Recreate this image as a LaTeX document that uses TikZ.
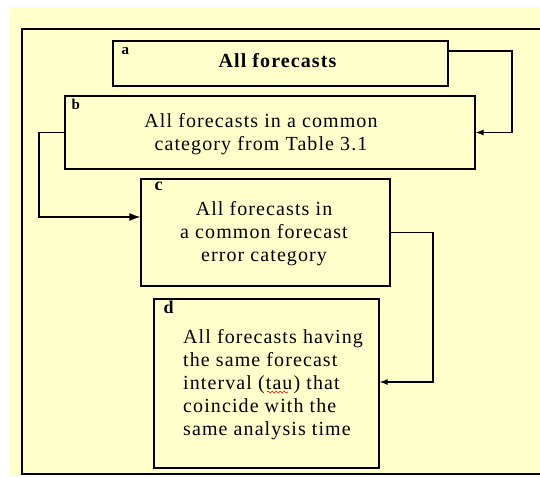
\documentclass[tikz,border=0pt]{standalone}
\usepackage{fontspec}
\setmainfont{Liberation Serif}[LetterSpace=5.5]
\usetikzlibrary{arrows.meta, positioning, decorations.pathmorphing}
\definecolor{paleyellow}{HTML}{FFFFCC}

\begin{document}
\begin{tikzpicture}[x=1pt, y=-1pt,
  box/.style={draw, line width=1.2pt, inner sep=0pt},
  txt/.style={inner sep=0pt, align=center, font=\fontsize{20}{23}\selectfont},
  lbl/.style={inner sep=0pt, anchor=base west, font=\fontsize{15}{17}\selectfont\bfseries},
  biglbl/.style={lbl, font=\fontsize{18}{20}\selectfont\bfseries},
  link/.style={line width=1.2pt, -{Latex[length=8pt,width=6pt]}}]

  % background and frame
  \useasboundingbox (0,0) rectangle (540,476);
  \fill[paleyellow] (9,7) rectangle (540,476);
  \draw[line width=2.5pt] (545,29) -- (22,29) -- (22,474) -- (545,474);

  % a
  \node[box, minimum width=335pt, minimum height=45pt] (a) at (280.5,63.5) {};
  \node[txt, anchor=base, font=\fontsize{20}{23}\selectfont\bfseries] (atext) at (277.5,68) {All forecasts};
  \node[lbl] (alabel) at ([xshift=9pt,yshift=-14pt]a.north west) {a};

  % b
  \node[box, minimum width=410pt, minimum height=73pt] (b) at (270,132.5) {};
  \node[txt] (btext) at (261,134) {All forecasts in a common\\category from Table 3.1};
  \node[lbl] (blabel) at ([xshift=7pt,yshift=-14pt]b.north west) {b};

  % c
  \node[box, minimum width=249pt, minimum height=107pt] (c) at (265.5,232.5) {};
  \node[txt] (ctext) at (264,234) {All forecasts in\\a common forecast\\error category};
  \node[biglbl] (clabel) at ([xshift=14pt,yshift=-12pt]c.north west) {c};

  % d
  \node[box, minimum width=225pt, minimum height=169pt] (d) at (266.5,383.5) {};
  \node[txt, align=left, anchor=west] (dtext) at (183,385) {All forecasts having\\the same forecast\\interval (tau) that\\coincide with the\\same analysis time};
  \node[biglbl] (dlabel) at ([xshift=10pt,yshift=-15pt]d.north west) {d};
  % spell-check squiggle under tau
  \draw[red, line width=0.6pt, decorate, decoration={snake, amplitude=1pt, segment length=4pt}] (267,392) -- (288,392);

  % a-to-b
  \coordinate (ab) at (512,51);
  \draw[link] (a.east |- ab) -- (ab) |- (b.east);

  % b-to-c
  \coordinate (bc) at (39,217);
  \draw[link, -{Latex[length=11pt,width=8pt]}] (b.west) -| (bc) -- (bc -| c.west);

  % c-to-d
  \coordinate (cd) at (433,382);
  \draw[link] (c.east) -| (cd) -- (cd -| d.east);
\end{tikzpicture}
\end{document}
